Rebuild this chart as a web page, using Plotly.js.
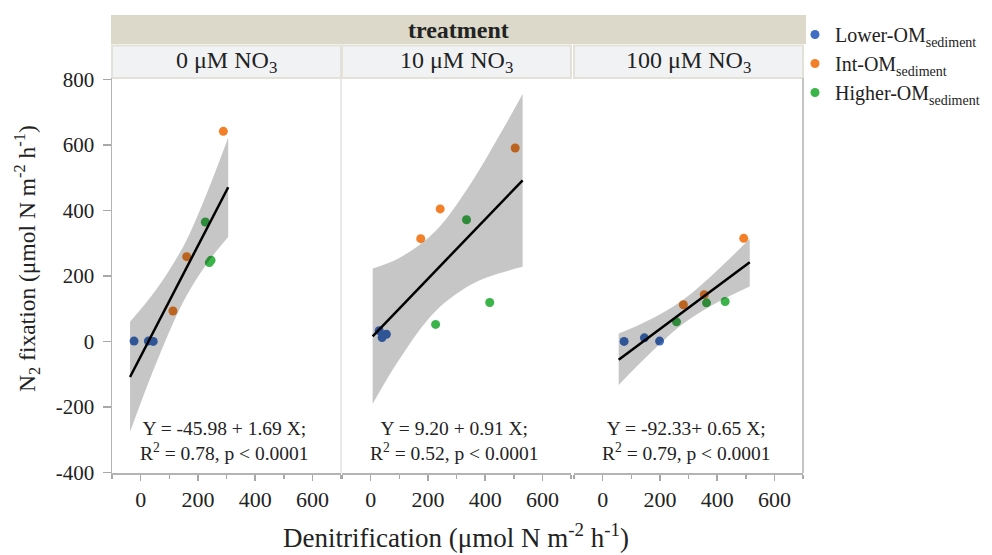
<!DOCTYPE html>
<html><head><meta charset="utf-8">
<script src="https://cdn.plot.ly/plotly-3.0.1.min.js"></script>
<style>html,body{margin:0;padding:0;background:#fff}#chart{width:992px;height:555px}</style>
</head><body><div id="chart"></div>
<script>
// ---- data ----
const panelLabels = ['0 μM NO<sub>3</sub>', '10 μM NO<sub>3</sub>', '100 μM NO<sub>3</sub>'];
const groupNames = ['Lower-OM<sub>sediment</sub>', 'Int-OM<sub>sediment</sub>', 'Higher-OM<sub>sediment</sub>'];

const lowerX = [[-23, 27, 44], [30, 40, 55], [75, 146, 199]];
const lowerY = [[1, 1, 0], [33, 12, 22], [0, 11, 1]];
const intX = [[113, 161, 289], [175, 243, 505], [282, 355, 493]];
const intY = [[93, 259, 642], [314, 405, 591], [112, 143, 315]];
const highX = [[226, 240, 246], [227, 335, 416], [258, 363, 428]];
const highY = [[365, 241, 248], [52, 372, 119], [60, 118, 122]];

const intercepts = [-45.98, 9.20, -92.33];
const slopes = [1.69, 0.91, 0.65];
const r2 = ['0.78', '0.52', '0.79'];
const fitXRange = [[-37, 306], [7, 531], [56, 514]];

const bandX = [[-37, 50, 150, 230, 306], [7, 100, 225, 350, 450, 531], [56, 150, 280, 400, 514]];
const bandUpper = [[60, 153, 292, 450, 623], [223, 255, 336, 483, 630, 756], [24, 60, 127, 217, 314]];
const bandLower = [[-277, -76, 123, 236, 319], [-191, -55, 91, 173, 208, 228], [-133, -50, 53, 119, 168]];

const xTicks = [0, 200, 400, 600];
const yTicks = [-400, -200, 0, 200, 400, 600, 800];

// ---- styling ----
const FONT = 'Liberation Serif, Times New Roman, serif';
const TXT = '#222';
const colors = ['#3f6ec2', '#f38028', '#3bb44a'];
const W = 992, H = 555, L = 112, R = 803, T = 78, B = 473;
const pw = R - L, ph = B - T;
const dom = (a, b) => [(a - L) / pw, (b - L) / pw];
const py = p => 1 + (T - p) / ph;
const px = p => (p - L) / pw;
const domains = [dom(112, 341), dom(342, 571), dom(574, 803)];
const xa = ['x', 'x2', 'x3'];

const traces = [];
const groupX = [lowerX, intX, highX];
const groupY = [lowerY, intY, highY];
for (let p = 0; p < 3; p++) {
  for (let g = 0; g < 3; g++) {
    traces.push({
      type: 'scatter', mode: 'markers', x: groupX[g][p], y: groupY[g][p],
      xaxis: xa[p], yaxis: 'y', name: groupNames[g], legendgroup: 'g' + g,
      showlegend: p === 0, marker: {color: colors[g], size: 9}, hoverinfo: 'x+y'
    });
  }
  traces.push({
    type: 'scatter', mode: 'lines', x: bandX[p], y: bandLower[p], xaxis: xa[p], yaxis: 'y',
    line: {width: 0, shape: 'spline'}, showlegend: false, hoverinfo: 'skip'
  });
  traces.push({
    type: 'scatter', mode: 'lines', x: bandX[p], y: bandUpper[p], xaxis: xa[p], yaxis: 'y',
    line: {width: 0, shape: 'spline'}, fill: 'tonexty', fillcolor: 'rgba(0,0,0,0.225)',
    showlegend: false, hoverinfo: 'skip'
  });
  const fx = fitXRange[p];
  traces.push({
    type: 'scatter', mode: 'lines', x: fx, y: fx.map(v => intercepts[p] + slopes[p] * v),
    xaxis: xa[p], yaxis: 'y', line: {color: '#000', width: 2.5}, showlegend: false, hoverinfo: 'skip'
  });
}

const axisLine = '#b4b4b4';
function xaxis(p) {
  return {
    domain: domains[p], anchor: 'y', range: [-100, 700], tickvals: xTicks, ticktext: xTicks.map(String),
    ticks: 'outside', ticklen: 6, tickcolor: '#a8a8a8', tickwidth: 1.5,
    showline: true, linecolor: axisLine, linewidth: 1.5, showgrid: false, zeroline: false,
    minor: {dtick: 100, tick0: 0, ticks: 'outside', ticklen: 4, tickcolor: '#a8a8a8', tickwidth: 1.5, showgrid: false},
    tickfont: {family: FONT, size: 22, color: TXT}, ticklabelstandoff: 0, fixedrange: true
  };
}

const annotations = [{
  xref: 'paper', yref: 'paper', x: px(458), y: py(29.5), text: '<b>treatment</b>', showarrow: false,
  font: {family: FONT, size: 24, color: TXT}, xanchor: 'center', yanchor: 'middle'
}, {
  xref: 'paper', yref: 'paper', x: px(456), y: py(536), text: 'Denitrification (μmol N m<sup>-2</sup> h<sup>-1</sup>)',
  showarrow: false, font: {family: FONT, size: 27, color: TXT}, xanchor: 'center', yanchor: 'middle'
}, {
  xref: 'paper', yref: 'paper', x: px(27), y: py(259), text: 'N<sub>2</sub> fixation (μmol N m<sup>-2</sup> h<sup>-1</sup>)',
  textangle: -90, showarrow: false, font: {family: FONT, size: 23.5, color: TXT}, xanchor: 'center', yanchor: 'middle'
}];
const shapes = [{
  type: 'rect', xref: 'paper', yref: 'paper', x0: px(111), x1: px(806), y0: py(44), y1: py(15),
  fillcolor: '#dcd9ca', line: {width: 0}, layer: 'below'
}];
for (let p = 0; p < 3; p++) {
  const dx = xa[p] + ' domain';
  shapes.push({type: 'rect', xref: dx, yref: 'paper', x0: 0, x1: 1, y0: py(78), y1: py(45.5),
    fillcolor: '#f1f2f4', line: {color: '#e4e2d8', width: 2}, layer: 'below'});
  annotations.push({xref: dx, yref: 'paper', x: 0.5, y: py(62), text: panelLabels[p], showarrow: false,
    font: {family: FONT, size: 24, color: TXT}, xanchor: 'center', yanchor: 'middle'});
  annotations.push({xref: dx, yref: 'y domain', x: 0.49, y: (B - 441) / ph,
    text: 'Y = ' + intercepts[p].toFixed(2) + (p === 2 ? '+ ' : ' + ') + slopes[p].toFixed(2) + ' X;<br>R<sup>2</sup> = ' + r2[p] + ', p &lt; 0.0001',
    showarrow: false, align: 'center', font: {family: FONT, size: 19.5, color: TXT}, xanchor: 'center', yanchor: 'middle'});
}
shapes.push({type: 'line', xref: 'x domain', yref: 'y domain', x0: 1, x1: 1, y0: 0, y1: 1, line: {color: '#e2e2e2', width: 1.5}});
shapes.push({type: 'line', xref: 'x3 domain', yref: 'y domain', x0: 1, x1: 1, y0: 0, y1: 1, line: {color: '#c4c4c4', width: 2}});

const layout = {
  width: W, height: H, margin: {l: L, r: W - R, t: T, b: H - B, autoexpand: false},
  paper_bgcolor: '#fff', plot_bgcolor: '#fff', font: {family: FONT, color: TXT},
  xaxis: xaxis(0), xaxis2: xaxis(1), xaxis3: xaxis(2),
  yaxis: {
    domain: [0, 1], anchor: 'x', range: [-402, 805], tickvals: yTicks, ticktext: yTicks.map(String),
    ticks: 'outside', ticklen: 8, tickcolor: '#a8a8a8', tickwidth: 1.5,
    showline: true, linecolor: axisLine, linewidth: 1.5, showgrid: false, zeroline: false,
    tickfont: {family: FONT, size: 21, color: TXT}, ticklabelstandoff: 4,
    fixedrange: true
  },
  legend: {x: px(795), y: py(15), xanchor: 'left', yanchor: 'top', bgcolor: 'rgba(0,0,0,0)',
    font: {family: FONT, size: 20, color: TXT}, tracegroupgap: 0, itemwidth: 30},
  annotations: annotations, shapes: shapes, showlegend: true
};

Plotly.newPlot('chart', traces, layout, {displayModeBar: false, staticPlot: true});
</script></body></html>
